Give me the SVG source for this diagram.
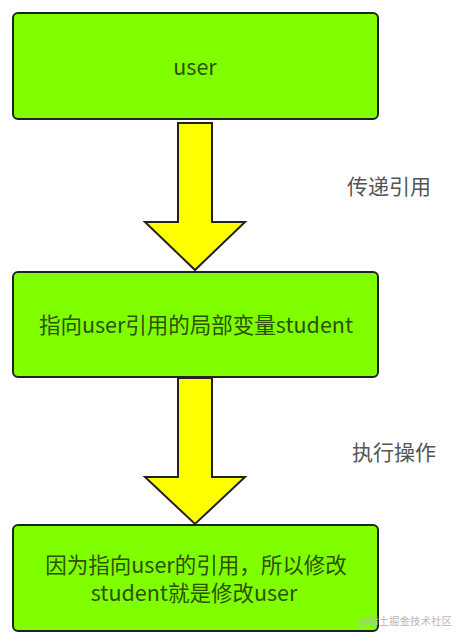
<svg xmlns="http://www.w3.org/2000/svg" width="460" height="641" viewBox="0 0 460 641">
<style>
.box{fill:#80ff00;stroke:#222;stroke-width:2}
.arrow{fill:#ffff00;stroke:#222;stroke-width:2;stroke-linejoin:miter}
.t{font-family:"Noto Sans CJK SC","Noto Sans",sans-serif;font-size:21.5px;fill:#2d5200;text-anchor:middle}
.lbl{font-family:"Noto Sans CJK SC","Noto Sans",sans-serif;font-size:21px;fill:#555}
.wm{font-family:"Noto Sans CJK SC","Noto Sans",sans-serif;font-size:10.5px;fill:#b8b8b8}
</style>
<rect width="460" height="641" fill="#fff"/>
<g id="connectors">
<g id="arrow1">
<path class="arrow" d="M178,123 H212 V222 H245 L195,270 L145,222 H178 Z"/>
<text class="lbl" x="347" y="194">传递引用</text>
</g>
<g id="arrow2">
<path class="arrow" d="M178,378 H212 V477 H245 L195,524 L145,477 H178 Z"/>
<text class="lbl" x="352" y="460">执行操作</text>
</g>
</g>
<g id="node-user">
<rect class="box" x="13" y="13" width="365" height="106" rx="5"/>
<text class="t" x="195" y="75">user</text>
</g>
<g id="node-student">
<rect class="box" x="13" y="272" width="365" height="105" rx="5"/>
<text class="t" x="196" y="333">指向user引用的局部变量student</text>
</g>
<g id="node-modify">
<rect class="box" x="13" y="525" width="365" height="106" rx="5"/>
<text class="t" x="196" y="573">因为指向user的引用，所以修改</text>
<text class="t" x="194" y="601">student就是修改user</text>
</g>
<text class="wm" x="358" y="625">@稀土掘金技术社区</text>
</svg>
